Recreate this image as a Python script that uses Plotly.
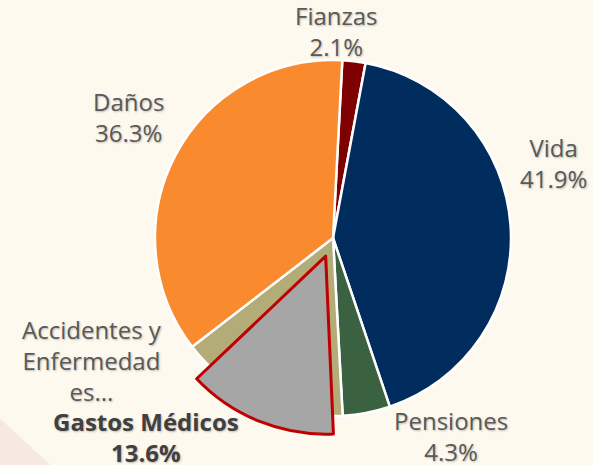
import plotly.graph_objects as go

# ---- data ----
labels = ["Fianzas", "Vida", "Pensiones", "Accidentes y Enfermedades", "Daños"]
values = [2.1, 41.9, 4.3, 15.4, 36.3]
colors = ["#7F0000", "#002D5E", "#3A6140", "#B3AB78", "#FA8A2E"]

sub_label = "Gastos Médicos"
sub_value = 13.6
sub_rest = 100 - sub_value

label_texts = ["Fianzas<br>2.1%", "Vida<br>41.9%", "Pensiones<br>4.3%",
               "Accidentes y<br>Enfermedad<br>es...", "Daños<br>36.3%"]
sub_text = "<b>Gastos Médicos<br>13.6%</b>"

# ---- layout constants ----
W, H = 593, 465
cx, cy, r = 333, 238, 178
pull = 0.11
bg = "#FDF9EE"

def domain(radius):
    cyb = H - cy
    return dict(x=[(cx - radius) / W, (cx + radius) / W],
                y=[(cyb - radius) / H, (cyb + radius) / H])

fig = go.Figure()
fig.add_trace(go.Pie(
    labels=labels, values=values, sort=False, direction="clockwise",
    rotation=3, textinfo="none", hoverinfo="label+percent",
    marker=dict(colors=colors, line=dict(color="white", width=2.5)),
    domain=domain(r), showlegend=False,
))
fig.add_trace(go.Pie(
    labels=[sub_label, "resto"], values=[sub_value, sub_rest], sort=False,
    direction="clockwise", rotation=177.5, textinfo="none",
    pull=[pull, 0], hoverinfo="skip",
    marker=dict(colors=["#A6A6A6", "rgba(0,0,0,0)"],
                line=dict(color=["#C00000", "rgba(0,0,0,0)"], width=[3, 0])),
    domain=domain(r * (1 + pull)), showlegend=False,
))

# label placement (pixel centres)
pos = [(336, 31), (553, 163), (451, 436), (92, 360), (128, 117)]
shadow = "1px 1px 2px rgba(0,0,0,0.25)"
annotations = []
for t, (px, py) in zip(label_texts, pos):
    annotations.append(dict(
        text=t, x=px / W, y=1 - py / H, xref="paper", yref="paper",
        xanchor="center", yanchor="middle", showarrow=False, align="center",
        font=dict(family="Open Sans", size=24, color="#595959", shadow=shadow)))
annotations.append(dict(
    text=sub_text, x=146 / W, y=1 - 437 / H, xref="paper", yref="paper",
    xanchor="center", yanchor="middle", showarrow=False, align="center",
    font=dict(family="Open Sans", size=24, color="#404040", shadow=shadow)))

fig.update_layout(
    width=W, height=H, margin=dict(l=0, r=0, t=0, b=0),
    paper_bgcolor=bg, plot_bgcolor=bg,
    annotations=annotations,
    shapes=[dict(type="path", xref="paper", yref="paper",
                 path="M 0 0.1 L 0.085 0 L 0 0 Z",
                 fillcolor="#F6E9E2", line=dict(width=0), layer="below")],
)
fig.write_html("out.html",
               config={"displayModeBar": False},
               post_script="document.body.style.margin='0';"
                           "document.body.style.overflow='hidden';"
                           "document.body.style.background='#FDF9EE';")
